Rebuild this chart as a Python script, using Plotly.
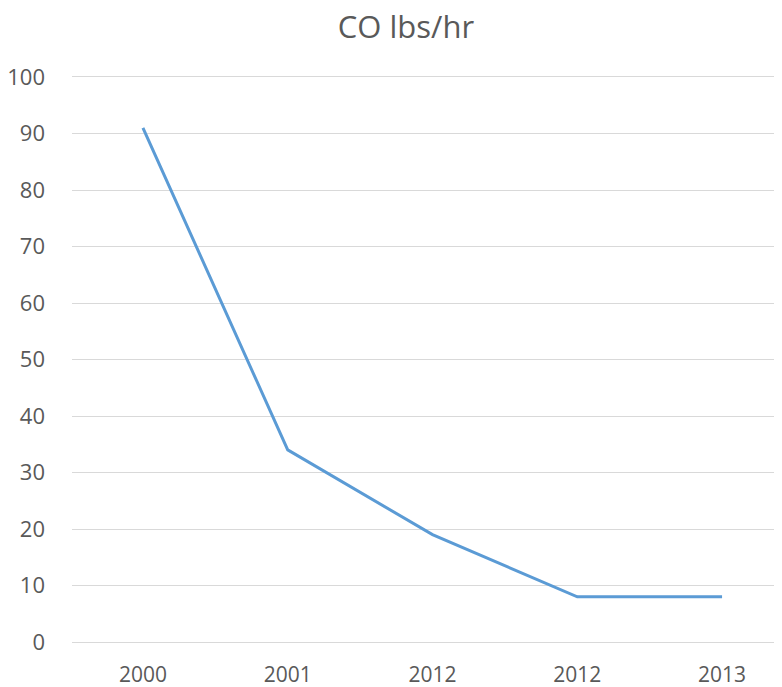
import plotly.graph_objects as go

categories = ["2000", "2001", "2012", "2012", "2013"]
co_values = [91, 34, 19, 8, 8]
y_ticks = [0, 10, 20, 30, 40, 50, 60, 70, 80, 90, 100]

positions = list(range(len(categories)))

fig = go.Figure()
fig.add_trace(go.Scatter(
    x=positions, y=co_values, mode="lines",
    line=dict(color="#5B9BD5", width=3),
    showlegend=False, hoverinfo="y",
))

font_family = "Open Sans"
W, H = 774, 679
fig.update_layout(
    width=W, height=H,
    margin=dict(l=64, r=0, t=69, b=45),
    paper_bgcolor="white", plot_bgcolor="white",
    title=dict(text="CO lbs/hr", x=398 / W, xanchor="center",
               y=1 - 19 / H, yanchor="middle",
               font=dict(family=font_family, size=31, color="#595959")),
    xaxis=dict(
        range=[-0.49, 4.414], tickmode="array", tickvals=positions, ticktext=categories,
        showgrid=False, zeroline=False,
        showline=True, mirror=True, linecolor="#D9D9D9", linewidth=1.3,
        tickfont=dict(family=font_family, size=21, color="#595959"),
        ticklabelstandoff=14, automargin=False,
    ),
    yaxis=dict(
        range=[0, 100], tickmode="array", tickvals=y_ticks,
        showgrid=True, gridcolor="#D9D9D9", gridwidth=1.3, zeroline=False, showline=False,
        tickfont=dict(family=font_family, size=22, color="#595959"),
        ticklabelstandoff=26, automargin=False,
    ),
)

fig.write_html("out.html")
